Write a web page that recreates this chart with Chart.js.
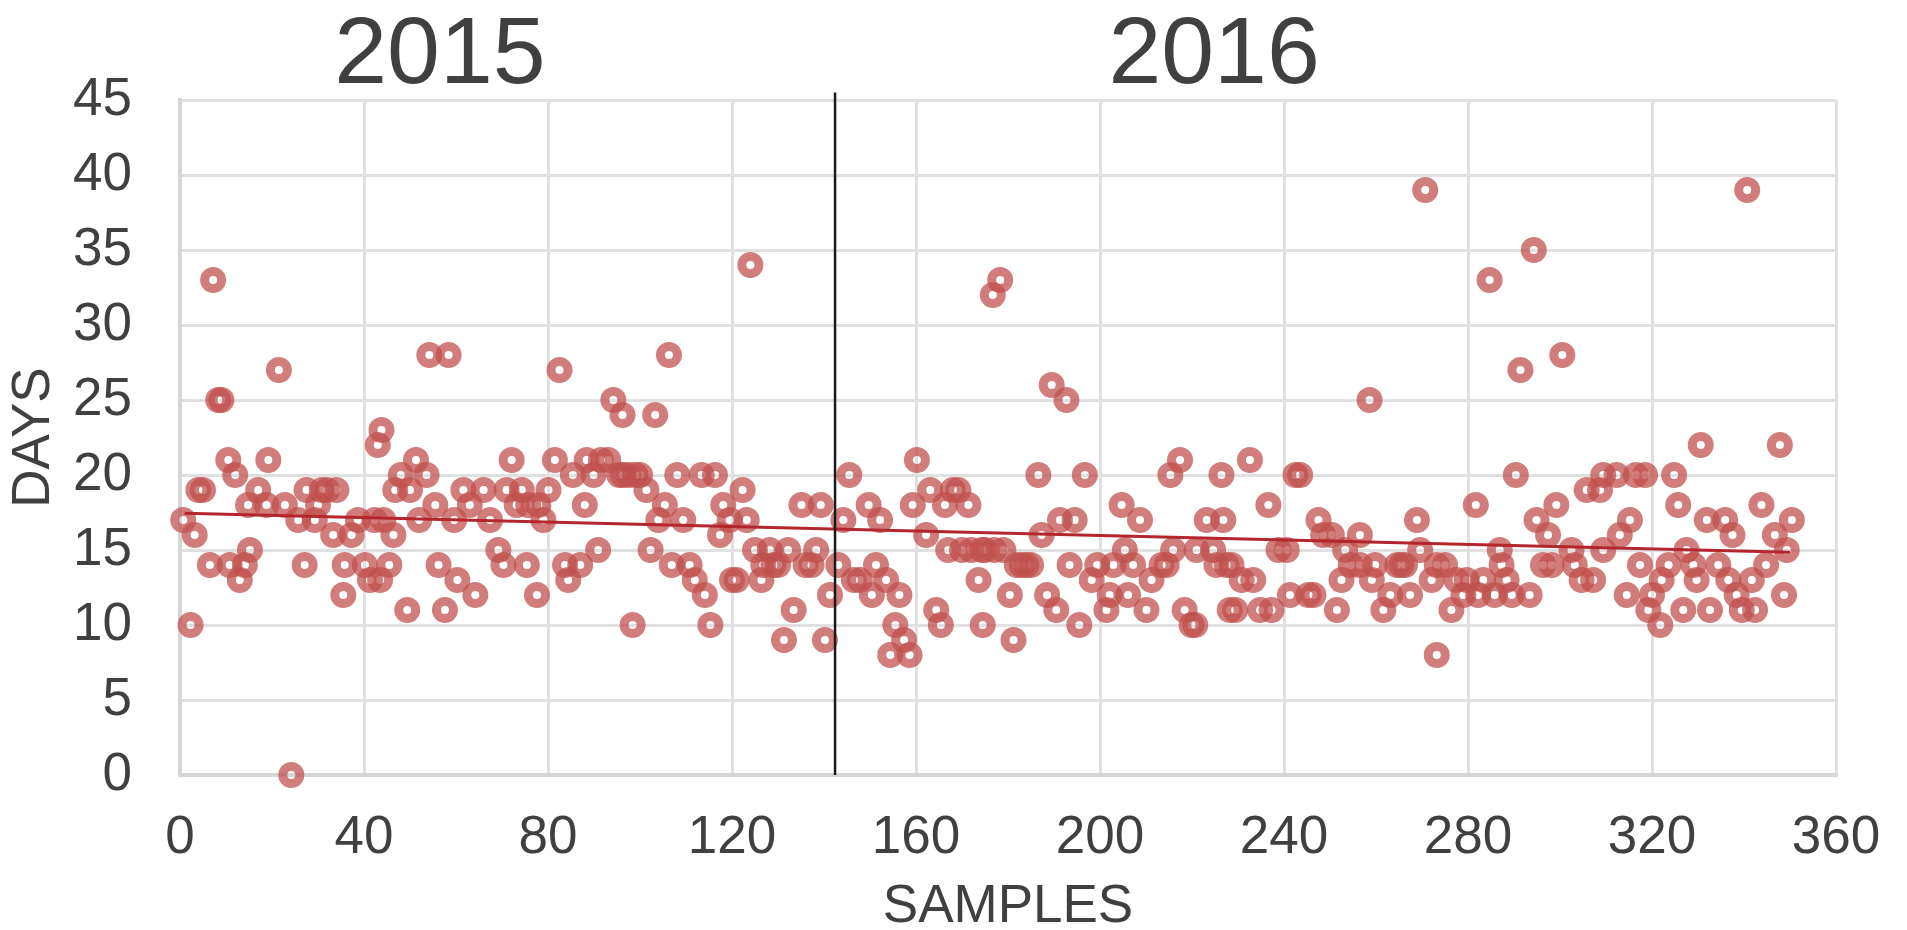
<!DOCTYPE html>
<html>
<head>
<meta charset="utf-8">
<script src="https://cdn.jsdelivr.net/npm/chart.js@4.4.1/dist/chart.umd.min.js"></script>
<style>
  html, body { margin: 0; padding: 0; background: #fff; }
  #wrap { width: 1907px; height: 930px; }
</style>
</head>
<body>
<div id="wrap"><canvas id="daysChart" width="1907" height="930"></canvas></div>
<script>
// values
const samples2015 = [0.7,2.3,3.2,4,5,6.5,7.2,8.3,9,10.5,10.8,12,13,14.1,14.8,15.2,17,18.8,19.2,21.5,22.8,24.2,25.7,27.1,27.5,29.3,30,30.8,32,33.3,34,35.5,35.8,37.3,38.7,40.2,41.3,42.3,43,43.8,
  43.5,44.2,45.5,46.4,46.8,48,49.4,50,51.3,52,53.6,54.2,55.5,56.2,57.6,58.4,59.6,60.3,61.6,63,64.2,66,67.4,69.2,70.3,71,72.1,73.2,74.3,75.4,75.7,77.6,77.9,79,80.1,81.5,82.5,83.7,84.4,85.4,87,88,88.4,89.9,
  90.9,91.5,93.1,94.2,95.5,96.2,96.3,97.5,98.4,99,100,101.4,102.3,103.3,104,105.4,106.3,106.9,108.1,109.4,110.8,111.9,113.4,114.1,115.3,116.3,117.4,118.1,119.5,120,121,122.3,123.2,124,125,126.4,126.8,128.2,129,130,131.3,132.2,133.4,135.1,136,137.3,138.3,139.3,140.2,141.3];
const days2015 = [17,10,16,19,19,14,33,25,25,21,14,20,13,14,18,15,19,18,21,27,18,0,17,14,19,17,18,19,19,16,19,12,14,16,17,14,13,17,22,23,
  13,17,14,16,19,20,11,19,21,17,20,28,18,14,11,28,17,13,19,18,12,19,17,15,14,19,21,18,19,14,18,12,18,17,19,21,27,14,13,20,14,18,21,20,
  15,21,21,25,20,24,20,20,10,20,20,19,15,24,17,18,28,14,20,17,14,13,20,12,10,20,16,18,17,13,13,19,17,34,15,13,14,15,14,14,9,15,11,18,14,14,15,18,9,12];

const samples2016 = [143.1,144.2,145.5,146.5,147.8,149.7,150.4,151.3,152.2,153.5,154.4,155.5,156.4,157.4,158.6,159.3,160.2,162.2,163.1,164.4,165.4,166.3,167,168,169.2,170,171.4,172,173.6,174.3,174.5,175,176.7,177,178.3,179,180.4,181.2,181.9,183,184,185,
  186.6,187.3,188.5,189.5,190.5,191.3,192.7,193.4,194.5,195.5,196.7,198.2,199.4,201.4,202.1,202.9,204.7,205.4,206.1,207.2,208.7,210.1,211.2,213.4,214.5,215.3,215.9,217.4,218.4,219.9,220.7,221,223.2,224.6,225.3,226.4,226.8,227.5,228.2,
  228.6,229.4,230.8,232.6,233.3,234.8,236.6,237.3,238.8,240.6,241.3,242.5,243.5,245.3,246.4,247.5,248.5,250.4,251.5,252.5,253.3,254.5,256.5,256.5,258.6,259.1,259.8,261.6,263.1,264.6,265.5,266.3,267.4,268.9,269.6,270.7,272.1,273.2,273.2,
  275,276.4,277.5,279,279.7,281.7,282.2,283.3,284.7,285.8,286.9,287.3,288.4,289.5,290.4,291.4,293.4,294.3,294.9,296.3,297.4,298.2,299.2,300.5,302.5,303.2,304.7,305.8,307.2,308.7,309.4,309.4,312.3,313,314.5,315.2,316.5,317.4,318.5,319.2,
  320,321.8,322.1,323.6,324.8,325.7,326.8,327.5,329,329.7,330.6,331.9,332.6,334.4,335.9,336.6,337.5,338.4,339.5,340.7,341.7,342.4,343.8,344.8,346.7,347.8,348.7,349.3,350.4];
const days2016 = [14,17,20,13,13,18,12,14,17,13,8,10,12,9,8,18,21,16,19,11,10,18,15,19,19,15,18,15,13,15,10,15,32,15,33,15,12,9,14,14,14,14,
  20,16,12,26,11,17,25,14,17,10,20,13,14,11,12,14,18,15,12,14,17,11,13,14,14,20,15,21,11,10,10,15,17,15,14,20,17,14,11,
  14,11,13,21,13,11,18,11,15,15,12,20,20,12,12,17,16,16,11,13,15,14,16,14,25,13,14,11,12,14,14,14,12,17,15,39,13,14,8,
  14,11,13,12,13,18,12,13,33,12,15,14,13,12,20,27,12,35,17,14,16,14,18,28,15,14,13,19,13,19,20,15,20,16,12,17,20,14,20,11,
  12,10,13,14,20,18,11,15,14,13,22,17,11,14,17,13,16,12,11,39,13,11,18,14,16,22,12,15,17];

const trendSamples = [1, 350];
const trendDays = [17.45, 14.85];
const dividerSample = 142.4;

const years = ['2015', '2016'];
const yearCenters = [56.5, 224.8];

const xTicks = [0, 40, 80, 120, 160, 200, 240, 280, 320, 360];
const yTicks = [0, 5, 10, 15, 20, 25, 30, 35, 40, 45];

const textColor = '#404040';
const fontFamily = "'Liberation Sans', Arial, sans-serif";

function toPoints(xs, ys){
  return xs.map((x, i) => ({x: x, y: ys[i]}));
}

const yearLabels = {
  id: 'yearLabels',
  afterDraw(chart){
    const ctx = chart.ctx;
    const xScale = chart.scales.x;
    ctx.save();
    ctx.fillStyle = textColor;
    ctx.font = '95px ' + fontFamily;
    ctx.textAlign = 'center';
    ctx.textBaseline = 'alphabetic';
    years.forEach((label, i) => {
      ctx.fillText(label, xScale.getPixelForValue(yearCenters[i]), 83);
    });
    ctx.restore();
  }
};

new Chart(document.getElementById('daysChart'), {
  type: 'scatter',
  data: {
    datasets: [
      {
        data: [{x: dividerSample, y: 0}, {x: dividerSample, y: 45.5}],
        showLine: true,
        borderColor: '#1a1a1a',
        borderWidth: 2.5,
        pointRadius: 0,
        clip: false,
        order: 0
      },
      {
        data: toPoints(trendSamples, trendDays),
        showLine: true,
        borderColor: '#b3262e',
        borderWidth: 3,
        pointRadius: 0,
        order: 1
      },
      {
        data: toPoints(samples2015, days2015).concat(toPoints(samples2016, days2016)),
        pointStyle: 'circle',
        pointRadius: 8.5,
        borderWidth: 9,
        borderColor: 'rgba(192,80,77,0.74)',
        backgroundColor: 'rgba(0,0,0,0)',
        clip: false,
        order: 2
      }
    ]
  },
  options: {
    responsive: false,
    animation: false,
    devicePixelRatio: 1,
    events: [],
    layout: { padding: { top: 100, left: 0, right: 71, bottom: 0 } },
    plugins: { legend: { display: false }, tooltip: { enabled: false } },
    scales: {
      x: {
        type: 'linear',
        min: 0,
        max: 360,
        afterBuildTicks: (axis) => { axis.ticks = xTicks.map(v => ({value: v})); },
        afterFit: (axis) => {
          axis.height = 155;
          axis.paddingRight = 0;
        },
        ticks: { color: textColor, font: { family: fontFamily, size: 53 }, padding: 32, maxRotation: 0 },
        grid: { color: '#e0e0e0', lineWidth: 3, drawTicks: false },
        border: { color: '#d6d6d6', width: 4 },
        title: { display: true, text: 'SAMPLES', color: textColor, font: { family: fontFamily, size: 53, lineHeight: 1 }, padding: { top: 0, bottom: -4 } }
      },
      y: {
        min: 0,
        max: 45,
        afterBuildTicks: (axis) => { axis.ticks = yTicks.map(v => ({value: v})); },
        afterFit: (axis) => { axis.width = 180; },
        ticks: { color: textColor, font: { family: fontFamily, size: 53 }, padding: 48 },
        grid: { color: '#e0e0e0', lineWidth: 3, drawTicks: false },
        border: { color: '#d6d6d6', width: 4 },
        title: { display: true, text: 'DAYS', color: textColor, font: { family: fontFamily, size: 53 }, padding: { top: 3, bottom: 6 } }
      }
    }
  },
  plugins: [yearLabels]
});
</script>
</body>
</html>
